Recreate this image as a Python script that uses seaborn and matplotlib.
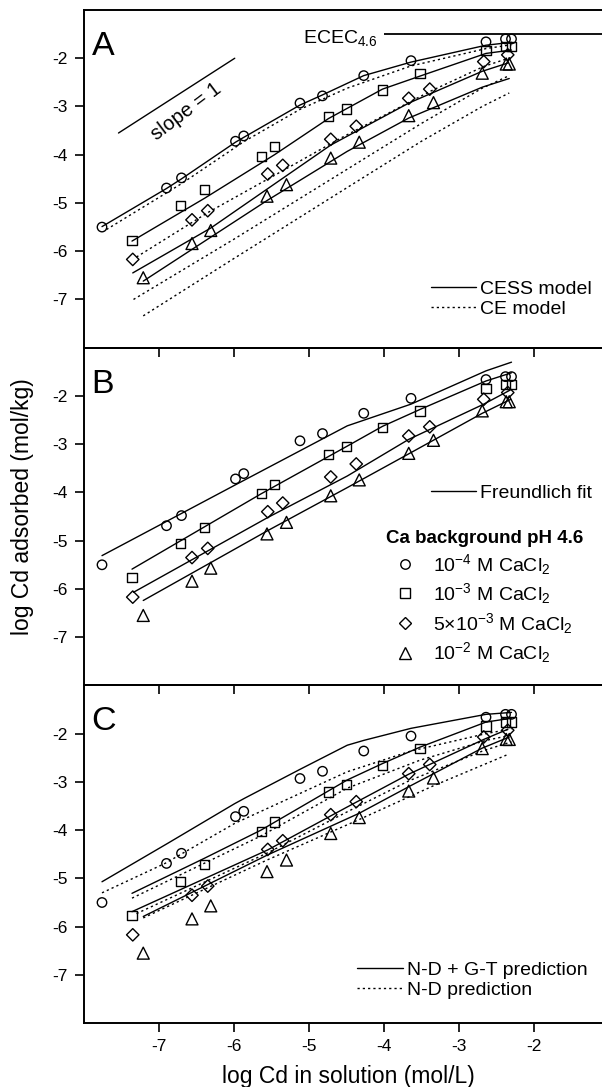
import matplotlib
matplotlib.use("Agg")
import matplotlib.pyplot as plt
from matplotlib.lines import Line2D
import seaborn as sns

# ---------------- measured data (same in all panels) ----------------
circ_x = [-7.76, -6.90, -6.70, -5.98, -5.87, -5.12, -4.82, -4.27, -3.64, -2.64, -2.38, -2.30]
circ_y = [-5.50, -4.69, -4.48, -3.72, -3.61, -2.93, -2.78, -2.36, -2.05, -1.66, -1.60, -1.60]
sq_x = [-7.36, -6.71, -6.39, -5.63, -5.46, -4.74, -4.50, -4.02, -3.52, -2.64, -2.38, -2.30]
sq_y = [-5.77, -5.06, -4.72, -4.03, -3.83, -3.21, -3.05, -2.66, -2.31, -1.84, -1.76, -1.76]
dia_x = [-7.35, -6.56, -6.35, -5.55, -5.35, -4.71, -4.37, -3.67, -3.39, -2.67, -2.35]
dia_y = [-6.17, -5.35, -5.16, -4.40, -4.22, -3.68, -3.41, -2.83, -2.64, -2.07, -1.93]
tri_x = [-7.21, -6.56, -6.31, -5.56, -5.30, -4.71, -4.33, -3.67, -3.34, -2.69, -2.37, -2.33]
tri_y = [-6.55, -5.84, -5.57, -4.86, -4.62, -4.07, -3.74, -3.19, -2.92, -2.31, -2.12, -2.12]

# ---------------- Panel A: CESS (solid) and CE (dotted) model ----------------
a_cess_circ_x = [-7.76, -6.90, -6.70, -5.98, -5.87, -5.12, -4.82, -4.27, -3.64, -2.64, -2.30]
a_cess_circ_y = [-5.49, -4.70, -4.50, -3.74, -3.64, -2.97, -2.76, -2.36, -2.08, -1.73, -1.67]
a_cess_sq_x = [-7.36, -6.39, -5.46, -4.74, -4.02, -3.52, -2.64, -2.30]
a_cess_sq_y = [-5.79, -4.90, -4.00, -3.25, -2.64, -2.37, -1.90, -1.83]
a_cess_dia_x = [-7.35, -6.31, -4.71, -3.67, -2.69, -2.35]
a_cess_dia_y = [-6.45, -5.52, -3.80, -2.93, -2.27, -2.10]
a_cess_tri_x = [-7.21, -5.56, -4.49, -3.67, -2.69, -2.33]
a_cess_tri_y = [-6.62, -4.95, -3.93, -3.24, -2.60, -2.42]

a_ce_circ_x = [-7.70, -6.70, -5.87, -5.12, -4.49, -3.64, -2.64, -2.30]
a_ce_circ_y = [-5.55, -4.60, -3.73, -3.06, -2.62, -2.16, -1.80, -1.72]
a_ce_sq_x = [-7.30, -6.35, -5.44, -4.57, -3.39, -2.67, -2.30]
a_ce_sq_y = [-6.12, -5.20, -4.41, -3.65, -2.69, -2.17, -1.98]
a_ce_dia_x = [-7.34, -6.00, -4.49, -3.50, -2.69, -2.33]
a_ce_dia_y = [-7.00, -5.75, -4.30, -3.35, -2.62, -2.36]
a_ce_tri_x = [-7.21, -6.00, -4.49, -3.50, -2.69, -2.33]
a_ce_tri_y = [-7.34, -6.15, -4.68, -3.72, -3.00, -2.72]

# ---------------- Panel B: Freundlich fit ----------------
b_fit_circ_x = [-7.76, -5.99, -4.49, -3.64, -2.64, -2.30]
b_fit_circ_y = [-5.31, -3.85, -2.62, -2.17, -1.48, -1.30]
b_fit_sq_x = [-7.36, -5.64, -4.49, -4.02, -3.52, -2.64, -2.30]
b_fit_sq_y = [-5.59, -4.03, -3.04, -2.63, -2.28, -1.69, -1.52]
b_fit_dia_x = [-7.34, -5.55, -4.49, -3.67, -2.67, -2.32]
b_fit_dia_y = [-6.07, -4.52, -3.66, -2.90, -2.17, -1.88]
b_fit_tri_x = [-7.21, -5.56, -4.49, -3.67, -2.69, -2.31]
b_fit_tri_y = [-6.24, -4.80, -3.90, -3.20, -2.36, -2.07]

# ---------------- Panel C: N-D + G-T (solid) and N-D (dotted) ----------------
c_ndgt_circ_x = [-7.76, -6.88, -5.99, -5.86, -5.12, -4.49, -4.27, -3.64, -2.64, -2.30]
c_ndgt_circ_y = [-5.07, -4.27, -3.45, -3.34, -2.74, -2.24, -2.14, -1.89, -1.60, -1.56]
c_ndgt_sq_x = [-7.36, -6.39, -5.64, -4.49, -4.02, -3.52, -2.64, -2.30]
c_ndgt_sq_y = [-5.31, -4.58, -4.00, -2.96, -2.62, -2.28, -1.76, -1.68]
c_ndgt_dia_x = [-7.36, -5.55, -4.49, -3.67, -2.67, -2.35]
c_ndgt_dia_y = [-5.69, -4.41, -3.52, -2.84, -2.12, -1.91]
c_ndgt_tri_x = [-7.21, -5.56, -4.33, -3.67, -2.69, -2.33]
c_ndgt_tri_y = [-5.79, -4.52, -3.65, -3.10, -2.30, -2.07]

c_nd_circ_x = [-7.76, -6.92, -5.99, -4.49, -3.64, -2.64, -2.30]
c_nd_circ_y = [-5.30, -4.69, -3.86, -2.79, -2.36, -2.00, -1.90]
c_nd_sq_x = [-7.36, -5.64, -4.49, -3.52, -2.64, -2.30]
c_nd_sq_y = [-5.41, -4.12, -3.13, -2.55, -2.14, -2.03]
c_nd_dia_x = [-7.30, -5.55, -4.49, -3.67, -2.67, -2.30]
c_nd_dia_y = [-5.73, -4.47, -3.62, -2.98, -2.35, -2.17]
c_nd_tri_x = [-7.21, -5.56, -4.33, -3.34, -2.33]
c_nd_tri_y = [-5.82, -4.62, -3.78, -3.08, -2.42]

# annotations
ecec_level = -1.5
ecec_start = -4.0
slope_x0, slope_x1, slope_y0 = -7.54, -5.99, -3.55

series_labels = [r"10$^{-4}$ M CaCl$_2$", r"10$^{-3}$ M CaCl$_2$",
                 r"5$\times$10$^{-3}$ M CaCl$_2$", r"10$^{-2}$ M CaCl$_2$"]
xticks = [-7, -6, -5, -4, -3, -2]
yticks = [-7, -6, -5, -4, -3, -2]

# ---------------- styling ----------------
sns.set_theme(style="ticks")
plt.rcParams["font.family"] = ["Liberation Sans", "DejaVu Sans"]
plt.rcParams["mathtext.fontset"] = "custom"
plt.rcParams["mathtext.rm"] = "Liberation Sans"
plt.rcParams["mathtext.it"] = "Liberation Sans:italic"
plt.rcParams["mathtext.bf"] = "Liberation Sans:bold"
plt.rcParams["mathtext.default"] = "regular"
for key in ["text.color", "axes.labelcolor", "xtick.color", "ytick.color",
            "axes.edgecolor"]:
    plt.rcParams[key] = "black"

DOT = (0, (1.6, 2.2))
LW = 1.0
TICK_FS = 12.5
LEG_FS = 14.0

fig = plt.figure(figsize=(6.02, 10.87), dpi=100)
fig.patch.set_facecolor("white")

W, H = 602.0, 1087.0
left_px, right_px = 84.0, 609.0
top_px, ph = 10.0, 337.7

axes = []
for i in range(3):
    bottom = 1 - (top_px + (i + 1) * ph) / H
    ax = fig.add_axes([left_px / W, bottom, (right_px - left_px) / W, ph / H])
    ax.set_facecolor("none")
    axes.append(ax)

marker_specs = [
    (circ_x, circ_y, "o", 46),
    (sq_x, sq_y, "s", 44),
    (dia_x, dia_y, "D", 40),
    (tri_x, tri_y, "^", 74),
]


def draw_points(ax):
    for xs, ys, m, s in marker_specs:
        sns.scatterplot(x=xs, y=ys, marker=m, s=s, facecolor="none",
                        edgecolor="black", linewidth=1.0, ax=ax, zorder=4,
                        legend=False)


def draw_line(ax, xs, ys, ls="-"):
    sns.lineplot(x=xs, y=ys, color="black", linewidth=LW, linestyle=ls,
                 ax=ax, estimator=None, sort=False, legend=False)


for i, ax in enumerate(axes):
    ax.set_xlim(-8, -1)
    ax.set_ylim(-8, -1)
    ax.set_xticks(xticks)
    ax.set_yticks(yticks)
    ax.set_yticklabels([str(t) for t in yticks])
    ax.set_xticklabels([str(t) for t in xticks])
    ax.spines["right"].set_visible(False)
    for s in ["left", "bottom", "top"]:
        ax.spines[s].set_linewidth(1.4)
        ax.spines[s].set_color("black")
    ax.tick_params(axis="both", direction="out", length=6.5, width=1.2,
                   colors="black", labelsize=TICK_FS, top=False, right=False)
    ax.tick_params(axis="y", pad=5)
    ax.tick_params(axis="x", pad=5)
    if i < 2:
        ax.tick_params(axis="x", labelbottom=False)
    ax.set_xlabel("")
    ax.set_ylabel("")
    ax.text(-7.90, -1.93, "ABC"[i], fontsize=24.5, va="baseline", ha="left")

# ---- Panel A ----
axA = axes[0]
for xs, ys in [(a_cess_circ_x, a_cess_circ_y), (a_cess_sq_x, a_cess_sq_y),
               (a_cess_dia_x, a_cess_dia_y), (a_cess_tri_x, a_cess_tri_y)]:
    draw_line(axA, xs, ys, "-")
for xs, ys in [(a_ce_circ_x, a_ce_circ_y), (a_ce_sq_x, a_ce_sq_y),
               (a_ce_dia_x, a_ce_dia_y), (a_ce_tri_x, a_ce_tri_y)]:
    draw_line(axA, xs, ys, DOT)
draw_points(axA)
axA.hlines(ecec_level, ecec_start, -1, color="black", lw=1.3, clip_on=False)
axA.text(ecec_start - 0.08, -1.68, r"ECEC$_{4.6}$", fontsize=14,
         ha="right", va="baseline")
draw_line(axA, [slope_x0, slope_x1], [slope_y0, slope_y0 + (slope_x1 - slope_x0)], "-")
axA.text(-6.64, -3.10, "slope = 1", fontsize=14.5, rotation=37,
         ha="center", va="center", rotation_mode="anchor")
axA.legend(
    handles=[Line2D([], [], color="black", lw=LW),
             Line2D([], [], color="black", lw=LW, ls=DOT)],
    labels=["CESS model", "CE model"], loc="center left",
    bbox_to_anchor=(-3.38, -6.99), bbox_transform=axA.transData,
    frameon=False, borderpad=0, borderaxespad=0, handlelength=2.35,
    handletextpad=0.2, labelspacing=0.12, fontsize=LEG_FS)

# ---- Panel B ----
axB = axes[1]
for xs, ys in [(b_fit_circ_x, b_fit_circ_y), (b_fit_sq_x, b_fit_sq_y),
               (b_fit_dia_x, b_fit_dia_y), (b_fit_tri_x, b_fit_tri_y)]:
    draw_line(axB, xs, ys, "-")
draw_points(axB)
legB1 = axB.legend(
    handles=[Line2D([], [], color="black", lw=LW)], labels=["Freundlich fit"],
    loc="center left", bbox_to_anchor=(-3.38, -4.01),
    bbox_transform=axB.transData, frameon=False, borderpad=0,
    borderaxespad=0, handlelength=2.35, handletextpad=0.2, fontsize=LEG_FS)
axB.add_artist(legB1)
mk_handles = [
    Line2D([], [], marker="o", ls="none", mfc="none", mec="black", mew=1.0, ms=6.8),
    Line2D([], [], marker="s", ls="none", mfc="none", mec="black", mew=1.0, ms=6.6),
    Line2D([], [], marker="D", ls="none", mfc="none", mec="black", mew=1.0, ms=6.3),
    Line2D([], [], marker="^", ls="none", mfc="none", mec="black", mew=1.0, ms=8.6),
]
axB.legend(
    handles=mk_handles, labels=series_labels, loc="upper left",
    bbox_to_anchor=(-3.97, -4.78), bbox_transform=axB.transData,
    frameon=False, borderpad=0, borderaxespad=0, handlelength=1.95,
    handletextpad=0.45, labelspacing=0.24, fontsize=LEG_FS,
    title="Ca background pH 4.6", alignment="left",
    title_fontproperties={"weight": "bold", "size": 13.5})

# ---- Panel C ----
axC = axes[2]
for xs, ys in [(c_ndgt_circ_x, c_ndgt_circ_y), (c_ndgt_sq_x, c_ndgt_sq_y),
               (c_ndgt_dia_x, c_ndgt_dia_y), (c_ndgt_tri_x, c_ndgt_tri_y)]:
    draw_line(axC, xs, ys, "-")
for xs, ys in [(c_nd_circ_x, c_nd_circ_y), (c_nd_sq_x, c_nd_sq_y),
               (c_nd_dia_x, c_nd_dia_y), (c_nd_tri_x, c_nd_tri_y)]:
    draw_line(axC, xs, ys, DOT)
draw_points(axC)
axC.legend(
    handles=[Line2D([], [], color="black", lw=LW),
             Line2D([], [], color="black", lw=LW, ls=DOT)],
    labels=["N-D + G-T prediction", "N-D prediction"], loc="center left",
    bbox_to_anchor=(-4.36, -7.11), bbox_transform=axC.transData,
    frameon=False, borderpad=0, borderaxespad=0, handlelength=2.35,
    handletextpad=0.2, labelspacing=0.12, fontsize=LEG_FS)

# ---- axis labels ----
fig.text(22 / W, 1 - 507 / H, "log Cd adsorbed (mol/kg)", rotation=90,
         ha="center", va="center", fontsize=16.5)
fig.text(348 / W, 1 - 1076 / H, "log Cd in solution (mol/L)",
         ha="center", va="center", fontsize=16.5)

fig.savefig("out.png", dpi=100, facecolor="white")
